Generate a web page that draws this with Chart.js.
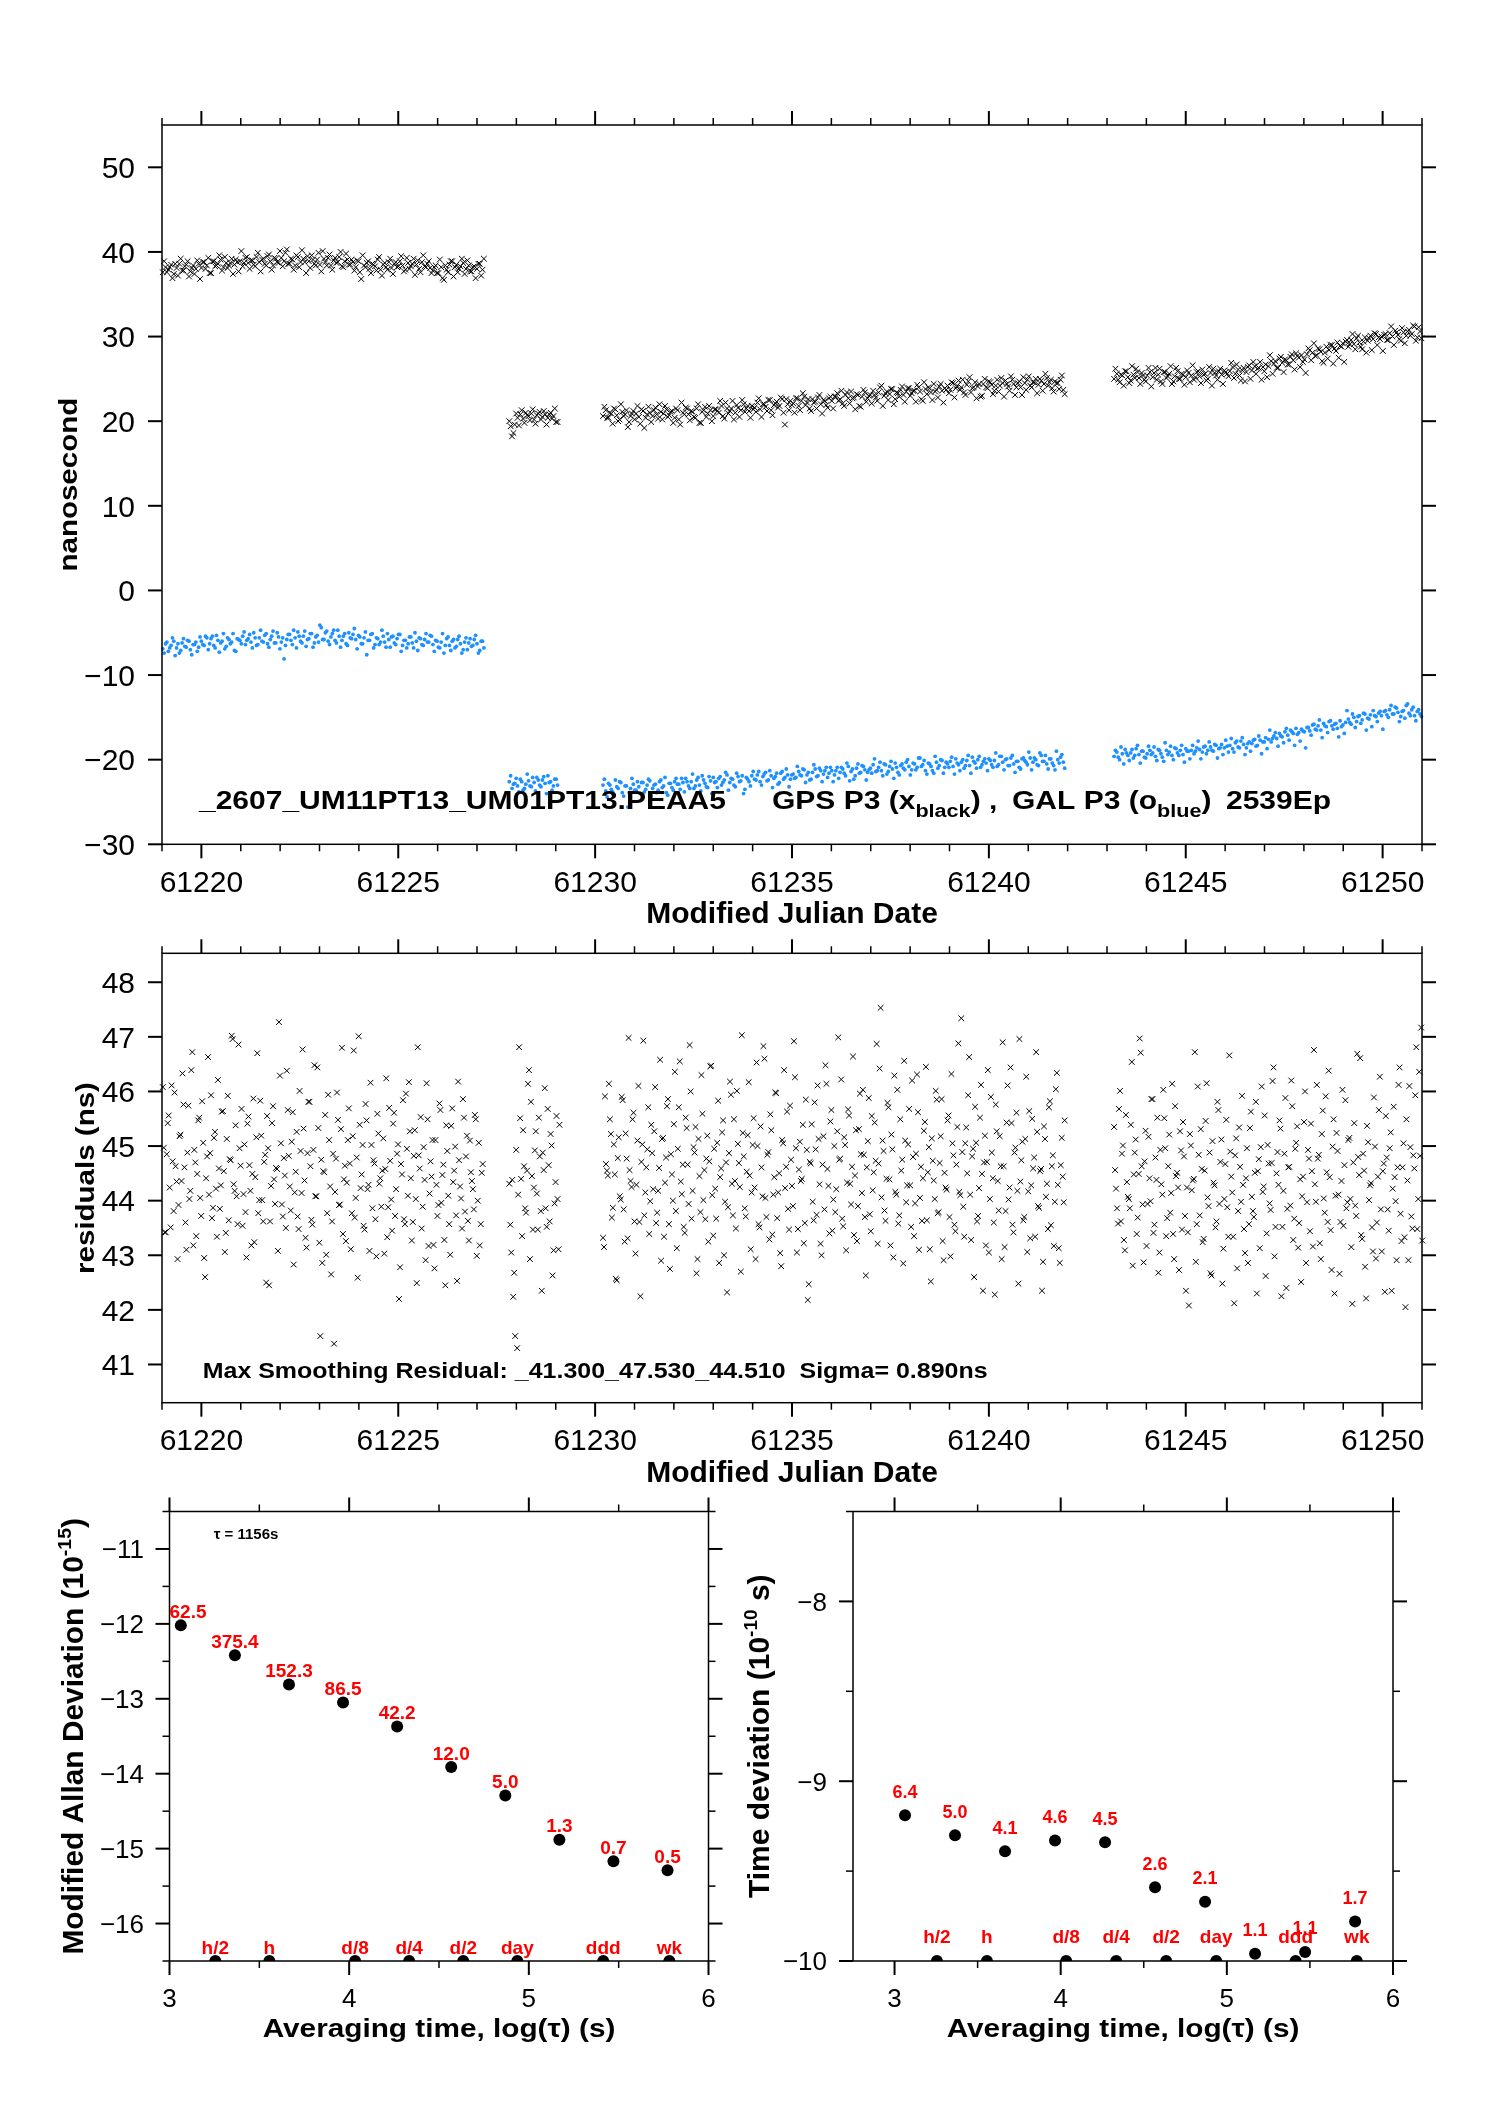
<!DOCTYPE html>
<html><head><meta charset="utf-8">
<script src="https://cdn.jsdelivr.net/npm/chart.js@4"></script>
<style>
html,body{margin:0;padding:0;background:#fff;}
body{width:1488px;height:2105px;position:relative;overflow:hidden;}
canvas{position:absolute;}
</style></head><body>
<canvas id="c1" width="1488" height="925" style="left:0;top:0"></canvas>
<canvas id="c2" width="1488" height="565" style="left:0;top:925px"></canvas>
<canvas id="c3" width="730" height="615" style="left:0;top:1490px"></canvas>
<canvas id="c4" width="758" height="615" style="left:730px;top:1490px"></canvas>
<script>
// ---------------- DATA ----------------
// segment start times (MJD) of the four data blocks, sampling steps
const segStarts = [61219.02, 61227.82, 61230.20, 61243.18];
const topStep = 0.07;
const resStep = 0.05;

// GPS P3 (black x), nanoseconds, per block (two interleaved sample sets)
const gpsA = [37.6,38.2,37.9,38.5,37.4,38.1,38.6,37.8,38.3,38.9,37.7,38.4,38.0,38.6,
38.1,38.8,38.4,37.5,38.9,38.3,38.6,39.1,38.2,38.7,38.4,39.2,38.5,38.8,
38.9,38.3,39.3,38.7,39.0,38.5,39.4,38.8,39.1,38.6,39.5,38.9,38.4,39.2,
38.7,39.3,38.9,40.3,38.6,39.1,38.4,39.4,38.8,39.2,37.5,38.9,39.6,38.6,
39.1,38.5,40.1,38.8,39.3,38.4,39.0,38.7,39.4,38.3,38.9,39.1,38.5,38.8,
38.2,38.9,36.8,38.4,38.7,38.0,38.6,38.3,39.1,37.9,38.5,38.2,38.8,38.1,
38.6,38.2,38.9,38.4,37.9,38.7,38.3,39.2,38.5,38.0,38.8,38.3,38.6,38.1,
37.8,38.4,37.5,38.2,36.7,37.9,38.5,38.9,38.2,37.6,38.3,38.7,38.0,38.4,
37.7,38.3,38.0,38.6,37.9];
const gpsB = [20.0,18.2,19.6,20.4,20.8,20.3,21.0,20.6,20.9,20.2,20.7,21.1,20.5,20.8,20.4,21.0,20.6,19.9];
const gpsC = [20.6,21.3,20.4,20.9,21.5,20.7,20.2,21.1,20.8,19.3,20.6,21.2,20.9,
20.5,21.4,19.2,20.8,21.0,20.6,21.6,20.3,21.1,20.9,21.4,20.7,21.2,20.4,
21.3,19.6,21.0,21.6,20.8,21.2,20.5,21.5,19.8,21.1,21.7,20.9,21.3,20.6,
21.4,21.0,21.8,20.3,21.5,21.2,22.4,21.0,21.6,21.3,22.0,21.5,21.2,21.8,
21.6,22.2,21.4,22.0,21.7,22.5,21.3,21.9,22.3,21.8,22.6,19.6,22.0,22.4,
22.1,22.7,21.8,22.4,22.9,22.2,21.5,22.6,22.3,22.8,22.0,22.5,21.9,22.7,
22.4,22.9,23.3,22.6,22.1,23.1,22.7,23.5,22.8,23.2,21.8,22.9,23.4,22.7,
23.1,23.6,22.8,23.4,24.2,23.0,23.5,23.2,23.8,22.6,23.3,23.7,23.1,23.5,
23.9,23.3,23.6,24.3,23.5,22.4,23.8,24.0,23.4,24.4,23.7,24.1,23.6,23.9,
24.2,23.7,24.5,23.9,24.8,24.0,23.4,24.3,25.2,23.9,24.6,24.1,22.9,24.4,
24.0,24.7,24.3,23.6,24.9,24.2,24.5,24.8,24.1,25.3,24.4,24.0,24.7,23.1,
24.5,24.9,24.2,24.6,25.0,24.3,24.8,24.4,25.1,24.6,23.9,24.7,24.5,24.9,23.7];
const gpsD = [25.0,25.6,24.6,25.4,25.9,25.2,24.8,25.5,26.2,25.1,25.7,24.9,25.4,25.8,
25.2,26.3,25.5,24.7,25.8,25.1,25.6,24.4,25.3,25.9,25.0,25.5,25.2,25.7,
25.4,24.9,25.8,25.3,26.1,25.6,25.0,25.7,26.2,25.4,25.9,25.5,26.0,25.6,
25.9,26.4,25.6,26.1,24.8,26.3,25.8,26.6,26.0,26.5,26.2,27.0,26.4,26.7,
26.5,27.1,26.8,26.3,27.4,26.9,27.3,26.7,27.6,27.2,28.0,27.5,27.8,27.3,
27.9,28.4,28.1,27.7,28.6,28.2,26.9,28.8,28.4,29.0,28.6,29.3,28.9,29.2,
29.4,28.8,29.6,29.1,29.8,29.3,28.5,29.9,29.5,30.1,29.7,30.3,29.9,30.0,
30.2,29.6,30.4,30.0,30.7,30.2,29.5,30.5,30.1,30.8,30.3,31.2,29.9,30.6];
const gpsA2 = [38.9,37.6,38.2,36.9,38.6,37.2,39.2,37.8,38.5,37.1,38.1,37.4,39.0,36.8,
38.8,38.0,39.3,37.5,38.9,38.4,39.6,37.8,39.4,38.1,38.7,37.4,39.1,37.7,
40.1,38.7,39.4,38.0,39.0,38.3,39.9,37.7,39.2,38.4,39.7,37.9,39.3,38.8,
40.1,38.3,39.9,38.6,39.2,37.9,39.6,38.2,40.2,38.8,39.5,38.1,39.1,38.4,
39.9,37.7,39.2,38.4,39.7,37.9,39.3,38.8,40.0,38.2,39.8,38.5,39.1,37.8,
39.0,37.6,39.6,38.2,38.9,37.5,38.5,37.8,39.4,37.2,38.7,37.9,39.2,37.4,
38.8,38.3,39.5,37.7,39.3,38.0,38.6,37.3,39.0,37.6,39.6,38.2,38.9,37.5,
38.2,37.5,39.1,36.9,38.4,37.6,38.9,37.1,38.5,38.0,39.2,37.4,39.0,37.7,
38.2,36.9,38.6,37.2,39.2];
const gpsB2 = [19.4,18.6,20.9,19.5,21.3,19.8,20.7,20.1,21.4,19.7,20.9,20.2,21.2,19.6,20.8,20.3,21.5,19.9];
const gpsC2 = [21.7,20.4,21.0,19.7,21.4,20.0,22.0,20.6,21.3,19.9,20.9,20.2,21.8,
19.7,21.2,20.4,21.7,19.9,21.3,20.8,22.0,20.2,21.8,20.5,21.1,19.8,21.5,
20.2,22.2,20.8,21.5,20.1,21.1,20.4,22.0,19.8,21.3,20.5,21.8,20.0,21.4,
21.2,22.4,20.6,22.2,20.9,21.5,20.2,21.9,20.5,22.5,21.1,21.8,20.4,21.4,
21.1,22.7,20.5,22.0,21.2,22.5,20.7,22.1,21.6,22.8,21.0,22.6,21.3,21.9,
21.0,22.7,21.3,23.3,21.9,22.6,21.2,22.2,21.5,23.1,20.9,22.4,21.6,22.9,
21.5,22.9,22.4,23.6,21.8,23.4,22.1,22.7,21.4,23.1,21.7,23.7,22.3,23.0,
22.1,23.1,22.4,24.0,21.8,23.3,22.5,23.8,22.0,23.4,22.9,24.1,22.3,23.9,
23.0,23.6,22.3,24.0,22.6,24.6,23.2,23.9,22.5,23.5,22.8,24.4,22.2,23.7,
23.3,24.6,22.8,24.2,23.7,24.9,23.1,24.7,23.4,24.0,22.7,24.4,23.0,25.0,
23.9,24.6,23.2,24.2,23.5,25.1,22.9,24.4,23.6,24.9,23.1,24.5,24.0,25.2,
23.7,25.3,24.0,24.6,23.3,25.0,23.6,25.6,24.2,24.9,23.5,24.5,23.8,25.4,23.2];
const gpsD2 = [26.2,24.9,25.5,24.2,25.9,24.5,26.5,25.1,25.8,24.4,25.4,24.7,26.3,24.1,
25.7,24.9,26.2,24.4,25.8,25.3,26.5,24.7,26.3,25.0,25.6,24.3,26.0,24.6,
26.6,25.2,25.9,24.5,25.5,24.8,26.4,24.2,25.7,24.9,26.2,24.4,25.8,25.3,
26.9,25.1,26.7,25.4,26.0,24.7,26.4,25.0,27.0,25.6,26.3,24.9,25.9,25.2,
27.8,25.6,27.1,26.3,27.6,25.8,27.2,26.7,27.9,26.1,27.7,26.4,27.0,25.7,
28.6,27.2,29.2,27.8,28.5,27.1,28.1,27.4,29.0,26.8,28.3,27.5,28.8,27.0,
29.6,29.1,30.3,28.5,30.1,28.8,29.4,28.1,29.8,28.4,30.4,29.0,29.7,28.3,
30.3,29.6,31.2,29.0,30.5,29.7,31.0,29.2,30.6,30.1,31.3,29.5,31.1,29.8];

// GAL P3 (blue o), nanoseconds, per block (two interleaved sample sets)
const galA = [-6.9,-6.3,-7.2,-6.5,-6.0,-6.8,-7.4,-6.2,-6.6,-5.9,-7.0,-6.4,-6.1,-6.7,
-6.0,-6.5,-5.6,-6.3,-5.4,-6.8,-5.9,-6.2,-5.1,-6.6,-5.8,-6.1,-7.1,-5.7,
-5.9,-5.4,-6.4,-5.7,-6.1,-5.0,-6.5,-5.6,-6.0,-5.3,-6.3,-5.8,-4.8,-6.2,
-5.5,-6.1,-8.1,-5.8,-5.2,-6.4,-5.6,-4.9,-6.0,-5.4,-6.6,-5.7,-5.1,-6.2,
-5.3,-4.1,-5.8,-5.0,-6.0,-5.5,-4.7,-6.2,-5.4,-5.9,-5.1,-6.5,-5.6,-5.2,
-5.8,-5.3,-6.3,-5.6,-7.6,-5.9,-5.1,-6.4,-5.7,-6.1,-5.4,-6.7,-5.8,-5.5,
-6.2,-5.7,-5.2,-6.5,-5.9,-6.3,-5.5,-6.8,-6.0,-5.6,-6.4,-5.8,-6.1,-5.3,
-6.4,-5.9,-6.7,-6.1,-7.4,-5.7,-6.5,-6.0,-6.8,-5.8,-6.3,-7.0,-5.6,-6.2,
-6.6,-5.8,-6.3,-7.1,-6.0];
const galB = [-22.6,-23.4,-22.8,-23.1,-22.3,-23.6,-22.9,-22.5,-23.2,-22.7,-22.1,-23.0,-22.4,-22.8,-21.9,-22.6,-23.1,-22.3];
const galC = [-23.0,-23.7,-22.8,-23.5,-24.1,-23.2,-22.6,-23.9,-23.1,-25.6,-23.4,-22.9,-23.6,
-23.2,-22.7,-23.8,-23.0,-22.5,-23.4,-22.9,-23.6,-22.4,-23.1,-23.9,-22.8,-23.3,-22.6,
-22.9,-23.5,-22.7,-22.2,-23.1,-22.6,-23.4,-22.4,-23.0,-21.9,-22.8,-23.3,-22.5,-22.1,
-22.6,-22.2,-23.0,-22.4,-21.8,-22.7,-22.3,-23.2,-22.0,-22.5,-24.0,-22.1,-22.6,-21.9,
-22.3,-21.8,-22.6,-22.0,-21.5,-22.4,-21.9,-22.2,-21.6,-22.7,-21.4,-22.1,-21.8,-22.3,
-21.7,-22.1,-21.4,-21.9,-21.2,-21.8,-22.4,-21.5,-21.1,-21.9,-21.3,-21.7,-20.9,-21.6,
-21.3,-21.8,-20.9,-21.5,-21.1,-21.9,-20.8,-21.4,-22.3,-21.0,-21.6,-20.7,-21.2,-21.5,
-21.0,-20.6,-21.4,-20.9,-21.3,-20.5,-21.7,-20.8,-21.1,-20.4,-21.5,-20.7,-21.0,-20.3,
-20.8,-21.2,-20.5,-20.9,-19.8,-20.6,-21.3,-20.4,-20.8,-21.6,-20.3,-20.7,-20.1,-20.9,
-20.5,-20.2,-20.8,-19.9,-20.6,-20.3,-21.0,-20.1,-20.7,-19.7,-20.4,-20.0,-20.9,-20.2,
-20.4,-19.9,-20.6,-20.1,-20.8,-19.6,-20.3,-20.0,-20.7,-19.8,-20.5,-20.2,-20.9,-19.9,
-20.1,-20.6,-19.8,-20.3,-20.0,-20.7,-19.5,-20.2,-20.5,-19.9,-20.4,-21.2,-20.0,-19.7,-20.3];
const galD = [-19.6,-19.1,-20.0,-19.3,-18.8,-19.5,-19.2,-19.8,-18.7,-19.4,-19.0,-19.7,-19.3,-18.9,
-19.2,-19.6,-18.8,-19.3,-20.2,-18.9,-19.1,-19.5,-18.6,-19.2,-18.9,-19.4,-18.7,-19.0,
-18.9,-19.3,-18.6,-18.8,-19.1,-18.4,-18.9,-18.5,-19.0,-18.3,-18.7,-18.2,-18.6,-18.4,
-18.3,-18.7,-18.0,-18.5,-17.8,-18.2,-18.6,-17.9,-18.1,-17.6,-18.3,-17.7,-17.9,-17.4,
-17.6,-17.9,-17.2,-17.5,-16.9,-17.3,-16.7,-17.1,-16.5,-16.9,-16.3,-16.8,-16.4,-16.7,
-16.2,-16.6,-15.9,-16.4,-16.0,-16.5,-15.7,-16.1,-15.5,-16.0,-15.8,-16.3,-15.4,-15.9,
-15.6,-15.2,-15.8,-15.0,-15.5,-14.8,-15.3,-14.6,-15.1,-14.7,-14.2,-14.9,-14.5,-14.8,
-14.3,-14.7,-14.1,-14.6,-13.8,-14.4,-14.9,-14.2,-13.6,-14.5,-14.1,-14.8,-14.3,-14.6];
const galA2 = [-7.4,-6.1,-6.8,-5.6,-7.7,-6.3,-7.1,-5.7,-6.7,-6.0,-7.6,-6.4,-7.2,-5.5,
-6.4,-5.4,-7.0,-5.7,-6.5,-5.3,-7.3,-6.0,-6.9,-5.6,-6.3,-5.1,-7.2,-5.8,
-6.3,-4.9,-5.9,-5.2,-6.8,-5.6,-6.4,-4.7,-6.1,-5.1,-6.7,-5.4,-6.2,-5.0,
-6.9,-5.6,-6.5,-5.2,-5.9,-4.7,-6.8,-5.4,-6.2,-4.8,-5.8,-5.1,-6.7,-5.5,
-6.1,-4.4,-5.8,-4.8,-6.4,-5.1,-5.9,-4.7,-6.7,-5.4,-6.3,-5.0,-5.7,-4.5,
-6.9,-5.5,-6.3,-4.9,-5.9,-5.2,-6.8,-5.6,-6.4,-4.7,-6.1,-5.1,-6.7,-5.4,
-6.4,-5.2,-7.2,-5.9,-6.8,-5.5,-6.2,-5.0,-7.1,-5.7,-6.5,-5.1,-6.1,-5.4,
-7.2,-6.0,-6.8,-5.1,-6.5,-5.5,-7.1,-5.8,-6.6,-5.4,-7.4,-6.1,-7.0,-5.7,
-6.5,-5.3,-7.4,-6.0,-6.8];
const galB2 = [-21.9,-22.9,-22.2,-23.8,-22.6,-23.4,-21.7,-23.1,-22.1,-23.7,-22.4,-23.2,-22.0,-24.0,-22.7,-23.6,-22.3,-23.0];
const galC2 = [-22.3,-24.4,-23.0,-23.8,-22.4,-23.4,-22.7,-24.3,-23.1,-23.9,-22.2,-23.6,-22.6,
-24.0,-22.7,-23.5,-22.3,-24.3,-23.0,-23.9,-22.6,-23.3,-22.1,-24.2,-22.8,-23.6,-22.2,
-22.9,-22.2,-23.8,-22.6,-23.4,-21.7,-23.1,-22.1,-23.7,-22.4,-23.2,-22.0,-24.0,-22.7,
-23.3,-22.0,-22.7,-21.5,-23.6,-22.2,-23.0,-21.6,-22.6,-21.9,-23.5,-22.3,-23.1,-21.4,
-22.4,-21.4,-23.0,-21.7,-22.5,-21.3,-23.3,-22.0,-22.9,-21.6,-22.3,-21.1,-23.2,-21.8,
-22.2,-20.8,-21.8,-21.1,-22.7,-21.5,-22.3,-20.6,-22.0,-21.0,-22.6,-21.3,-22.1,-20.9,
-22.6,-21.3,-22.2,-20.9,-21.6,-20.4,-22.5,-21.1,-21.9,-20.5,-21.5,-20.8,-22.4,-21.2,
-21.6,-19.9,-21.3,-20.3,-21.9,-20.6,-21.4,-20.2,-22.2,-20.9,-21.8,-20.5,-21.2,-20.0,
-21.8,-20.4,-21.2,-19.8,-20.8,-20.1,-21.7,-20.5,-21.3,-19.6,-21.0,-20.0,-21.6,-20.3,
-20.9,-19.7,-21.7,-20.4,-21.3,-20.0,-20.7,-19.5,-21.6,-20.2,-21.0,-19.6,-20.6,-19.9,
-21.3,-20.1,-20.9,-19.2,-20.6,-19.6,-21.2,-19.9,-20.7,-19.5,-21.5,-20.2,-21.1,-19.8,
-20.3,-19.1,-21.2,-19.8,-20.6,-19.2,-20.2,-19.5,-21.1,-19.9,-20.7,-19.0,-20.4,-19.4,-21.0];
const galD2 = [-18.9,-19.7,-18.5,-20.5,-19.2,-20.1,-18.8,-19.5,-18.3,-20.4,-19.0,-19.8,-18.4,-19.4,
-18.5,-20.1,-18.9,-19.7,-18.0,-19.4,-18.4,-20.0,-18.7,-19.5,-18.3,-20.3,-19.0,-19.9,
-18.3,-19.0,-17.8,-19.9,-18.5,-19.3,-17.9,-18.9,-18.2,-19.8,-18.6,-19.4,-17.7,-19.1,
-17.5,-19.1,-17.8,-18.6,-17.4,-19.4,-18.1,-19.0,-17.7,-18.4,-17.2,-19.3,-17.9,-18.7,
-16.5,-17.5,-16.8,-18.4,-17.2,-18.0,-16.3,-17.7,-16.7,-18.3,-17.0,-17.8,-16.6,-18.6,
-16.2,-17.1,-15.8,-16.5,-15.3,-17.4,-16.0,-16.8,-15.4,-16.4,-15.7,-17.3,-16.1,-16.9,
-14.2,-15.6,-14.6,-16.2,-14.9,-15.7,-14.5,-16.5,-15.2,-16.1,-14.8,-15.5,-14.3,-16.4,
-14.2,-15.0,-13.6,-14.6,-13.9,-15.5,-14.3,-15.1,-13.4,-14.8,-13.8,-15.4,-14.1,-14.9];

// smoothing residuals (ns), per block (two interleaved sample sets)
const resA = [46.08,43.42,44.85,45.56,43.51,44.72,45.98,44.35,43.92,45.21,46.33,44.61,43.10,45.74,44.18,46.72,44.93,43.35,45.47,44.05,
45.82,42.95,44.41,46.63,44.87,43.68,45.15,44.22,46.21,43.85,45.63,44.54,43.41,45.92,44.76,47.02,44.30,45.38,43.57,44.96,
45.68,44.12,43.79,45.41,44.65,43.18,45.87,44.43,46.70,44.01,45.19,43.62,44.84,45.55,42.45,44.27,45.73,43.94,44.58,47.27,
45.05,43.71,44.46,46.38,44.82,43.82,45.62,44.15,45.26,43.48,44.91,46.77,44.37,43.14,45.81,44.63,43.56,46.48,44.08,45.33,
41.52,42.86,44.52,43.01,45.94,44.26,43.62,41.38,44.77,45.48,43.93,46.80,44.39,43.26,45.11,44.68,43.77,46.75,44.05,42.59,
45.39,44.48,43.54,45.77,44.21,43.08,45.02,44.74,43.66,45.59,44.31,43.89,45.14,44.58,43.33,45.70,44.02,45.41,43.72,44.86,
42.20,44.67,45.84,43.57,44.95,46.17,44.41,43.61,45.29,42.49,44.83,45.53,43.89,44.38,46.15,43.17,44.72,45.11,42.76,44.29,
43.92,45.66,44.47,43.28,45.38,44.09,43.01,45.69,44.55,43.73,46.18,44.26,43.49,45.52,44.81,43.63,45.10,44.36,43.84,45.49,
44.00,43.18,44.51];
const resB = [44.31,43.05,42.24,41.52,41.30,46.81,44.40,45.29,43.86,44.55,46.39,45.81,43.47,44.92,44.13,45.52,43.81,44.88,46.06,43.52,44.65,45.22,42.63,43.95,45.55,43.11];
const resC = [43.32,45.91,44.55,46.14,45.22,43.87,44.48,42.54,45.16,44.02,45.84,43.25,44.77,46.98,44.36,45.49,43.62,44.29,46.10,42.25,
45.03,43.73,44.61,45.71,43.99,44.87,45.27,43.59,44.18,46.58,45.13,43.34,44.79,45.86,42.75,44.48,45.40,43.81,44.95,46.55,
44.12,43.52,45.52,44.66,46.85,43.67,44.98,45.35,42.93,44.45,46.30,44.01,43.66,45.19,44.72,46.47,43.36,44.22,45.06,42.86,
44.59,45.47,43.98,42.32,44.87,45.94,43.73,44.36,46.01,44.69,42.70,45.24,43.86,44.53,46.17,43.11,45.02,44.24,46.53,43.57,
45.36,44.08,46.60,43.70,44.89,45.58,43.38,44.43,45.97,44.15,43.04,45.11,46.39,44.62,43.85,45.74,44.27,46.92,44.96,43.48,
45.08,44.40,43.22,45.85,42.18,44.71,45.40,43.64,44.94,46.11,44.30,43.00,45.18,46.48,44.58,43.40,45.66,44.02,43.79,45.27,
44.75,46.22,43.53,45.02,44.33,45.56,43.93,46.64,44.46,43.26,45.31,44.85,46.03,43.70,44.61,45.88,43.44,44.19,45.43,46.87,
44.68,47.53,45.10,43.82,44.40,45.71,43.18,44.94,46.29,44.11,43.58,45.49,44.75,46.56,43.97,45.03,44.28,46.20,43.35,44.86,
45.62,44.05,43.63,45.28,46.45,44.52,43.11,45.14,44.37,46.01,43.77,44.69,45.86,42.91,44.24,45.47,43.70,46.32,44.83,43.44,
45.35,44.16,47.34,43.89,45.05,44.50,46.63,43.28,44.95,45.72,43.62,44.23,46.12,42.35,45.19,44.71,43.05,45.90,44.41,42.28,
45.27,43.82,44.63,46.90,43.15,45.43,44.02,46.44,43.56,44.88,45.61,42.48,44.35,45.08,43.70,46.27,44.17,43.31,45.50,44.79,
46.72,43.90,44.54,42.35,45.36,44.07,43.48,45.82,44.63,43.17,46.04,44.29,42.86,45.15,43.97];
const resD = [45.35,44.22,43.58,46.01,44.86,43.28,45.57,44.07,43.86,46.54,44.48,45.12,43.69,46.97,44.63,42.87,45.28,43.94,44.41,45.86,
43.41,44.79,45.52,43.05,44.30,46.03,44.96,43.68,45.21,44.14,43.39,45.73,44.51,42.73,44.92,45.44,43.72,44.24,42.08,45.01,
44.37,46.72,43.57,44.84,45.31,43.24,44.55,46.15,43.90,42.67,45.09,44.28,43.62,45.66,44.71,42.48,44.03,45.48,43.34,44.90,
44.15,42.12,45.14,43.81,44.62,45.92,43.48,44.41,42.86,45.33,44.07,43.70,45.81,44.54,43.13,46.09,44.26,42.62,45.02,43.95,
44.69,46.44,43.52,44.89,45.47,42.25,44.18,45.88,43.85,44.62,46.20,43.28,44.95,45.36,43.59,42.51,44.44,46.00,43.97,44.77,
45.41,43.16,44.30,46.12,44.84,42.93,45.65,43.78,44.52,46.38,43.46,44.99,42.30,45.24,44.11,43.61,46.03,44.65,43.86,45.11,
44.03,42.11,45.42,43.72,44.80,46.61,43.30,44.55,42.21,45.07,44.28,43.51,45.89,42.94,44.44,46.27,43.07,44.68,45.55,43.84,
44.96,42.35,45.72,43.99,44.61,46.44,43.26,45.05,42.05,44.37,46.10,43.71,44.83,45.93,43.48,46.36,47.17];
const resA2 = [44.97,43.42,45.42,44.24,46.11,43.81,44.63,42.93,45.18,44.36,45.76,43.60,44.88,44.03,46.39,43.18,44.70,44.49,45.52,43.72,45.06,42.60,44.81,44.11,45.93,43.87,45.26,43.34,44.59,44.28,45.64,43.06,45.13,43.64,44.74,46.96,44.18,
44.08,46.86,44.64,43.54,45.03,42.96,45.54,44.18,44.49,43.24,45.16,43.77,45.83,44.01,44.71,42.50,44.96,43.62,45.42,44.39,44.60,43.08,46.29,43.93,44.78,43.50,45.66,44.26,45.08,42.83,44.53,43.71,46.01,44.14,45.32,43.32,44.87,
45.81,43.65,44.93,44.08,46.44,43.23,44.75,44.54,45.57,43.77,45.11,42.65,44.86,44.16,45.98,43.92,45.31,43.39,44.64,44.33,45.69,43.11,45.18,43.69,44.79,47.01,44.23,45.02,43.47,45.47,44.29,46.16,43.86,44.68,42.98,45.23,44.41,
44.55,43.03,46.24,43.88,44.73,43.45,45.61,44.21,45.03,42.78,44.48,43.66,45.96,44.09,45.27,43.27,44.82,44.03,46.81,44.59,43.49,44.98,42.91,45.49,44.13,44.44,43.19,45.11,43.72,45.78,43.96,44.66,42.45,44.91,43.57,45.37,44.34,
44.99,42.53,44.74,44.04,45.86,43.80,45.19,43.27,44.52,44.21,45.57,42.99,45.06,43.57,44.67];
const resB2 = [43.56,44.38,42.68,44.93,44.11,45.51,43.35,44.63,43.78,46.14,42.93,44.45,44.24,45.27,43.47,44.81,42.35,44.56,43.86,45.68,43.62,45.01,43.09,44.34,44.03,45.39];
const resC2 = [43.15,44.67,44.46,45.49,43.69,45.03,42.57,44.78,44.08,45.90,43.84,45.23,43.31,44.56,44.25,45.61,43.03,45.10,43.61,44.71,46.93,44.15,44.94,43.39,45.39,44.21,46.08,43.78,44.60,42.90,45.15,44.33,45.73,43.57,44.85,44.00,46.36,
43.13,45.71,44.35,44.66,43.41,45.33,43.94,46.00,44.18,44.88,42.67,45.13,43.79,45.59,44.56,44.77,43.25,46.46,44.10,44.95,43.67,45.83,44.43,45.25,43.00,44.70,43.88,46.18,44.31,45.49,43.49,45.04,44.25,47.03,44.81,43.71,45.20,
44.46,44.15,45.51,42.93,45.00,43.51,44.61,46.83,44.05,44.84,43.29,45.29,44.11,45.98,43.68,44.50,42.80,45.05,44.23,45.63,43.47,44.75,43.90,46.26,43.05,44.57,44.36,45.39,43.59,44.93,42.47,44.68,43.98,45.80,43.74,45.13,43.21,
44.66,43.84,46.14,44.27,45.45,43.45,45.00,44.21,46.99,44.77,43.67,45.16,43.09,45.67,44.31,44.62,43.37,45.29,43.90,45.96,44.14,44.84,42.63,45.09,43.75,45.55,44.52,44.73,43.21,46.42,44.06,44.91,43.63,45.79,44.39,45.21,42.96,
44.16,46.03,43.73,44.55,42.85,45.10,44.28,45.68,43.52,44.80,43.95,46.31,43.10,44.62,44.41,45.44,43.64,44.98,42.52,44.73,44.03,45.85,43.79,45.18,43.26,44.51,44.20,45.56,42.98,45.05,43.56,44.66,46.88,44.10,44.89,43.34,45.34,
45.93,44.11,44.81,42.60,45.06,43.72,45.52,44.49,44.70,43.18,46.39,44.03,44.88,43.60,45.76,44.36,45.18,42.93,44.63,43.81,46.11,44.24,45.42,43.42,44.97,44.18,46.96,44.74,43.64,45.13,43.06,45.64,44.28,44.59,43.34,45.26,43.87,
44.58,42.88,45.13,44.31,45.71,43.55,44.83,43.98,46.34,43.13,44.65,44.44,45.47];
const resD2 = [44.56,43.86,45.68,43.62,45.01,43.09,44.34,44.03,45.39,42.81,44.88,43.39,44.49,46.71,43.93,44.72,43.17,45.17,43.99,45.86,43.56,44.38,42.68,44.93,44.11,45.51,43.35,44.63,43.78,46.14,42.93,44.45,44.24,45.27,43.47,44.81,42.35,
43.42,45.22,44.19,44.40,42.88,46.09,43.73,44.58,43.30,45.46,44.06,44.88,42.63,44.33,43.51,45.81,43.94,45.12,43.12,44.67,43.88,46.66,44.44,43.34,44.83,42.76,45.34,43.98,44.29,43.04,44.96,43.57,45.63,43.81,44.51,42.30,44.76,
44.98,44.16,45.56,43.40,44.68,43.83,46.19,42.98,44.50,44.29,45.32,43.52,44.86,42.40,44.61,43.91,45.73,43.67,45.06,43.14,44.39,44.08,45.44,42.86,44.93,43.44,44.54,46.76,43.98,44.77,43.22,45.22,44.04,45.91,43.61,44.43,42.73,
45.49,44.09,44.91,42.66,44.36,43.54,45.84,43.97,45.15,43.15,44.70,43.91,46.69,44.47,43.37,44.86,42.79,45.37,44.01,44.32,43.07,44.99,43.60,45.66,43.84,44.54,42.33,44.79,43.45,45.25,44.22,44.43,42.91,46.12,43.76,44.61,43.33,
45.49,42.91,44.98,43.49,44.59,46.81,44.03,44.82,43.27];

// stability analysis: log10(tau) and log10(deviation)
const logTau = [3.063, 3.364, 3.665, 3.966, 4.267, 4.568, 4.869, 5.170, 5.471, 5.772];
const madevLog = [-12.02, -12.42, -12.81, -13.05, -13.37, -13.91, -14.29, -14.88, -15.17, -15.29];
const madevLabels = ['62.5','375.4','152.3','86.5','42.2','12.0','5.0','1.3','0.7','0.5'];
const tdevLog = [-9.19, -9.30, -9.39, -9.33, -9.34, -9.59, -9.67, -9.96, -9.95, -9.78];
const tdevLabels = ['6.4','5.0','4.1','4.6','4.5','2.6','2.1','1.1','1.1','1.7'];
const refMarkLabels = ['h/2','h','d/8','d/4','d/2','day','ddd','wk'];
const refMarkLogTau = [3.255, 3.556, 4.033, 4.334, 4.635, 4.936, 5.414, 5.782];

// tick values
const mjdTicks = [61220, 61225, 61230, 61235, 61240, 61245, 61250];
const mjdMinor = [61219,61221,61222,61223,61224,61226,61227,61228,61229,61231,61232,61233,61234,61236,61237,61238,61239,61241,61242,61243,61244,61246,61247,61248,61249,61251];
const nsTicks = [-30, -20, -10, 0, 10, 20, 30, 40, 50];
const resTicks = [41, 42, 43, 44, 45, 46, 47, 48];
const tauTicks = [3, 4, 5, 6];
const tauMinor = [3.5, 4.5, 5.5];
const madevTicks = [-16, -15, -14, -13, -12, -11];
const madevMinor = [-16.5, -15.5, -14.5, -13.5, -12.5, -11.5, -10.5];
const tdevTicks = [-10, -9, -8];
const tdevMinor = [-9.5, -8.5, -7.5];

// ---------------- HELPERS ----------------
const FONT = "'Liberation Sans', Arial, Helvetica, sans-serif";
function blocks(arrs, step, offset) {
  const out = [];
  arrs.forEach((vals, k) => vals.forEach((v, i) => out.push({x: segStarts[k] + (offset || 0) + i * step, y: v})));
  return out;
}
function fmt(v) { return v < 0 ? '\u2212' + Math.abs(v) : String(v); }
function setFont(ctx, size, bold) { ctx.font = (bold ? 'bold ' : '') + size + 'px ' + FONT; }
function txt(ctx, s, x, y, size, bold, align, stretch, color) {
  stretch = stretch || 1;
  setFont(ctx, size, bold);
  const w = ctx.measureText(s).width * stretch;
  const x0 = align === 'center' ? x - w / 2 : align === 'right' ? x - w : x;
  ctx.save();
  ctx.translate(x0, y); ctx.scale(stretch, 1);
  ctx.fillStyle = color || '#000'; ctx.textAlign = 'left'; ctx.textBaseline = 'alphabetic';
  ctx.fillText(s, 0, 0);
  ctx.restore();
  return w;
}
function rich(ctx, pieces, x, y, o) {
  const st = o.stretch || 1;
  const sz = p => p.sub ? o.subSize : p.sup ? o.supSize : o.size;
  const wid = p => { setFont(ctx, sz(p), o.bold); return ctx.measureText(p.t).width * st; };
  const total = pieces.reduce((s, p) => s + wid(p), 0);
  let cx = o.align === 'center' ? x - total / 2 : x;
  for (const p of pieces) {
    if (p.x !== undefined) cx = p.x;
    const dy = p.sub ? o.subDy : p.sup ? -o.supDy : 0;
    const w = txt(ctx, p.t, cx, y + dy, sz(p), o.bold, 'left', st, o.color);
    cx += w;
  }
}
function line(ctx, x1, y1, x2, y2, w) {
  ctx.lineWidth = w; ctx.beginPath(); ctx.moveTo(x1, y1); ctx.lineTo(x2, y2); ctx.stroke();
}
function framePlugin(cfg) {
  return {
    id: 'frame',
    afterDatasetsDraw(chart) {
      const ctx = chart.ctx, a = chart.chartArea;
      (cfg.pointLabels || []).forEach(pl => {
        const meta = chart.getDatasetMeta(pl.ds);
        meta.data.forEach((el, i) => {
          let x = el.x;
          setFont(ctx, pl.size, true);
          const w = ctx.measureText(pl.labels[i]).width;
          if (x - w / 2 < a.left) x = a.left + w / 2;
          const yc = (pl.fromAxis ? a.bottom : el.y) - pl.dy;
          txt(ctx, pl.labels[i], x, yc + 0.358 * pl.size, pl.size, true, 'center', 1, '#ff0000');
        });
      });
    },
    afterDraw(chart) {
      const ctx = chart.ctx, a = chart.chartArea;
      const xs = chart.scales.x, ys = chart.scales.y;
      ctx.save();
      ctx.strokeStyle = '#000'; ctx.lineCap = 'butt';
      ctx.lineWidth = 1.5;
      ctx.strokeRect(a.left, a.top, a.right - a.left, a.bottom - a.top);
      const L = 14, S = 7;
      cfg.xMajor.forEach(v => { const p = xs.getPixelForValue(v); line(ctx, p, a.bottom, p, a.bottom + L, 2); line(ctx, p, a.top, p, a.top - L, 2); });
      (cfg.xMinor || []).forEach(v => { const p = xs.getPixelForValue(v); line(ctx, p, a.bottom, p, a.bottom + S, 1.5); line(ctx, p, a.top, p, a.top - S, 1.5); });
      cfg.yMajor.forEach(v => { const p = ys.getPixelForValue(v); line(ctx, a.left - L, p, a.left, p, 2); line(ctx, a.right, p, a.right + L, p, 2); });
      (cfg.yMinor || []).forEach(v => { const p = ys.getPixelForValue(v); line(ctx, a.left - S, p, a.left, p, 1.5); line(ctx, a.right, p, a.right + S, p, 1.5); });
      cfg.xMajor.forEach(v => txt(ctx, fmt(v), xs.getPixelForValue(v), a.bottom + 0.358 * cfg.tickSize + 37, cfg.tickSize, false, 'center'));
      cfg.yMajor.forEach(v => txt(ctx, fmt(v), a.left - cfg.yGap, ys.getPixelForValue(v) + 0.358 * cfg.tickSize, cfg.tickSize, false, 'right'));
      const xt = cfg.xTitle;
      rich(ctx, xt.pieces, (a.left + a.right) / 2, a.bottom + xt.dy, {size: xt.size, bold: true, stretch: xt.stretch, align: 'center'});
      const yt = cfg.yTitle;
      ctx.save();
      ctx.translate(yt.x, (a.top + a.bottom) / 2);
      ctx.rotate(-Math.PI / 2);
      rich(ctx, yt.pieces, 0, 0, {size: yt.size, bold: true, stretch: yt.stretch, align: 'center', supSize: yt.supSize, supDy: yt.supDy});
      ctx.restore();
      (cfg.notes || []).forEach(n => rich(ctx, n.pieces, n.x, n.y, n.opt));
      ctx.restore();
    }
  };
}
function makeChart(id, datasets, lim, pad, cfg) {
  return new Chart(document.getElementById(id), {
    type: 'scatter',
    data: { datasets },
    options: {
      responsive: false, animation: false, devicePixelRatio: 1, events: [],
      layout: { padding: pad },
      plugins: { legend: { display: false }, tooltip: { enabled: false } },
      scales: {
        x: { type: 'linear', display: false, min: lim[0], max: lim[1] },
        y: { type: 'linear', display: false, min: lim[2], max: lim[3] }
      }
    },
    plugins: [framePlugin(cfg)]
  });
}

// ---------------- CHART 1: clock offsets ----------------
const galPts = blocks([galA, galB, galC, galD], topStep, 0).concat(blocks([galA2, galB2, galC2, galD2], topStep, topStep / 2));
const gpsPts = blocks([gpsA, gpsB, gpsC, gpsD], topStep, 0).concat(blocks([gpsA2, gpsB2, gpsC2, gpsD2], topStep, topStep / 2));
makeChart('c1', [
  { data: galPts, pointStyle: 'circle', pointRadius: 1.9, pointBorderWidth: 0, pointBackgroundColor: '#1e90ff', clip: 4 },
  { data: gpsPts, pointStyle: 'crossRot', pointRadius: 4, pointBorderWidth: 1, pointBorderColor: '#000', pointBackgroundColor: '#000', clip: 4 }
], [61219, 61251, -30, 55], { left: 162, right: 66, top: 125, bottom: 80.7 }, {
  xMajor: mjdTicks, xMinor: mjdMinor, yMajor: nsTicks, tickSize: 30, yGap: 27,
  xTitle: { pieces: [{ t: 'Modified Julian Date' }], size: 30, stretch: 1, dy: 79 },
  yTitle: { pieces: [{ t: 'nanosecond' }], size: 25, stretch: 1.18, x: 77 },
  notes: [{ x: 199, y: 809, pieces: [
    { t: '_2607_UM11PT13_UM01PT13.PEAA5', x: 199 }, { t: 'GPS P3 (x', x: 772 }, { t: 'black', sub: true }, { t: ') ,' },
    { t: 'GAL P3 (o', x: 1012 }, { t: 'blue', sub: true }, { t: ')' }, { t: '2539Ep', x: 1226 }],
    opt: { size: 25, bold: true, stretch: 1.2, subSize: 18, subDy: 7.5 } }]
});

// ---------------- CHART 2: residuals ----------------
const resPts = blocks([resA, resB, resC, resD], resStep, 0).concat(blocks([resA2, resB2, resC2, resD2], resStep, resStep / 2));
makeChart('c2', [
  { data: resPts, pointStyle: 'crossRot', pointRadius: 4, pointBorderWidth: 1, pointBorderColor: '#000', clip: 4 }
], [61219, 61251, 40.3, 48.53], { left: 162, right: 66, top: 28.3, bottom: 87.3 }, {
  xMajor: mjdTicks, xMinor: mjdMinor, yMajor: resTicks, tickSize: 30, yGap: 27,
  xTitle: { pieces: [{ t: 'Modified Julian Date' }], size: 30, stretch: 1, dy: 79 },
  yTitle: { pieces: [{ t: 'residuals (ns)' }], size: 25, stretch: 1.18, x: 94 },
  notes: [{ x: 202.7, y: 453, pieces: [{ t: 'Max Smoothing Residual: _41.300_47.530_44.510  Sigma= 0.890ns' }],
    opt: { size: 22, bold: true, stretch: 1.135 } }]
});

// ---------------- CHART 3: modified Allan deviation ----------------
const tauAxisTitle = [{ t: 'Averaging time, log(\u03c4) (s)' }];
makeChart('c3', [
  { data: logTau.map((t, i) => ({ x: t, y: madevLog[i] })), pointStyle: 'circle', pointRadius: 6, pointBorderWidth: 0, pointBackgroundColor: '#000' },
  { data: refMarkLogTau.map(t => ({ x: t, y: -16.5 })), pointStyle: 'circle', pointRadius: 6, pointBorderWidth: 0, pointBackgroundColor: '#000', clip: 0 }
], [3, 6, -16.5, -10.5], { left: 169.5, right: 21.5, top: 21.5, bottom: 144 }, {
  xMajor: tauTicks, xMinor: tauMinor, yMajor: madevTicks, yMinor: madevMinor, tickSize: 26, yGap: 25.5,
  xTitle: { pieces: tauAxisTitle, size: 25, stretch: 1.19, dy: 76 },
  yTitle: { pieces: [{ t: 'Modified Allan Deviation (10' }, { t: '-15', sup: true }, { t: ')' }], size: 29, stretch: 1.03, supSize: 19, supDy: 12, x: 83 },
  pointLabels: [
    { ds: 0, labels: madevLabels, dy: 14, size: 19 },
    { ds: 1, labels: refMarkLabels, dy: 13.5, size: 19, fromAxis: true }
  ],
  notes: [{ x: 213.7, y: 49, pieces: [{ t: '\u03c4 = 1156s' }], opt: { size: 15, bold: true, stretch: 1 } }]
});

// ---------------- CHART 4: time deviation ----------------
makeChart('c4', [
  { data: logTau.map((t, i) => ({ x: t, y: tdevLog[i] })), pointStyle: 'circle', pointRadius: 6, pointBorderWidth: 0, pointBackgroundColor: '#000' },
  { data: refMarkLogTau.map(t => ({ x: t, y: -10 })), pointStyle: 'circle', pointRadius: 6, pointBorderWidth: 0, pointBackgroundColor: '#000', clip: 0 }
], [2.75, 6, -10, -7.5], { left: 123, right: 95, top: 21.5, bottom: 144 }, {
  xMajor: tauTicks, xMinor: tauMinor, yMajor: tdevTicks, yMinor: tdevMinor, tickSize: 26, yGap: 26,
  xTitle: { pieces: tauAxisTitle, size: 25, stretch: 1.19, dy: 76 },
  yTitle: { pieces: [{ t: 'Time deviation (10' }, { t: '-10', sup: true }, { t: ' s)' }], size: 30, stretch: 1, supSize: 19, supDy: 12, x: 39 },
  pointLabels: [
    { ds: 0, labels: tdevLabels, dy: 24, size: 18 },
    { ds: 1, labels: refMarkLabels, dy: 24.5, size: 19, fromAxis: true }
  ]
});
</script>
</body></html>
